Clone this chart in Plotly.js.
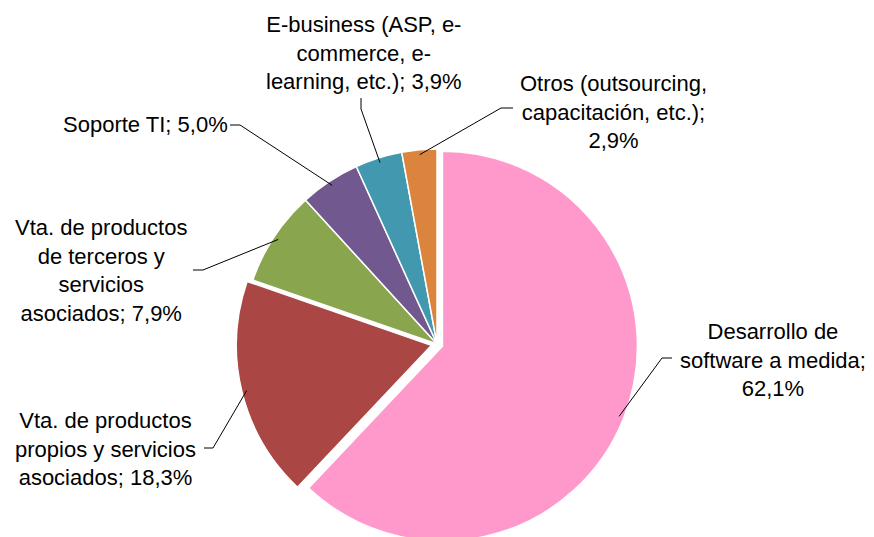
<!DOCTYPE html>
<html>
<head>
<meta charset="utf-8">
<script src="https://cdn.plot.ly/plotly-3.0.1.min.js"></script>
<style>
  html, body { margin: 0; padding: 0; overflow: hidden; background: #fff; }
</style>
</head>
<body>
<div id="chart"></div>
<script>
// data
var labels = ['Desarrollo de software a medida',
              'Vta. de productos propios y servicios asociados',
              'Vta. de productos de terceros y servicios asociados',
              'Soporte TI',
              'E-business (ASP, e-commerce, e-learning, etc.)',
              'Otros (outsourcing, capacitación, etc.)'];
var values = [62.1, 18.3, 7.9, 5.0, 3.9, 2.9];
var labelLines = ['Desarrollo de<br>software a medida;<br>',
                  'Vta. de productos<br>propios y servicios<br>asociados; ',
                  'Vta. de productos<br>de terceros y<br>servicios<br>asociados; ',
                  'Soporte TI; ',
                  'E-business (ASP, e-<br>commerce, e-<br>learning, etc.); ',
                  'Otros (outsourcing,<br>capacitación, etc.);<br>'];
var colors = ['#FF99CC', '#AA4643', '#89A54E', '#71588F', '#4198AF', '#DB843D'];
var pulls = [0.03, 0.03, 0, 0, 0, 0];

// layout (pixels)
var W = 874, H = 560;
var cx = 437, cy = 344, r = 195;
var labelPos = [[773, 360], [105, 449], [101, 270], [145, 125], [364, 53], [613, 112]];
var leaderStart = [[[672, 358], [662, 358]],
                   [[204, 448], [213, 448]],
                   [[193, 270], [203, 270]],
                   [[230, 125], [240, 125]],
                   [[361, 98], [361, 109]],
                   [[513, 108], [501, 108]]];

function fmt(v) {
    return v.toFixed(1).replace('.', ',') + '%';
}
function px(x) { return x / W; }
function py(y) { return 1 - y / H; }

var maxPull = Math.max.apply(null, pulls);
var half = r * (1 + maxPull);

var total = values.reduce(function(a, b) { return a + b; }, 0);
var cum = 0;
var annotations = [];
var shapes = [];
values.forEach(function(v, i) {
    var mid = (cum + v / 2) / total * 2 * Math.PI;
    cum += v;
    var s = Math.sin(mid), c = Math.cos(mid);
    var ox = cx + pulls[i] * r * s, oy = cy - pulls[i] * r * c;
    var ex = ox + 0.975 * r * s, ey = oy - 0.975 * r * c;
    var p = leaderStart[i];
    shapes.push({
        type: 'path', xref: 'paper', yref: 'paper',
        path: 'M' + px(p[0][0]) + ',' + py(p[0][1]) + ' L' + px(p[1][0]) + ',' + py(p[1][1]) +
              ' L' + px(ex) + ',' + py(ey),
        line: {color: '#000000', width: 1}
    });
    annotations.push({
        xref: 'paper', yref: 'paper',
        x: px(labelPos[i][0]), y: py(labelPos[i][1]),
        xanchor: 'center', yanchor: 'middle',
        text: labelLines[i] + fmt(v),
        showarrow: false, align: 'center',
        font: {family: 'Liberation Sans, Arial, sans-serif', size: 22, color: '#000000'}
    });
});

var data = [{
    type: 'pie',
    labels: labels,
    values: values,
    sort: false,
    direction: 'clockwise',
    rotation: 0,
    pull: pulls,
    textinfo: 'none',
    hoverinfo: 'label+percent',
    marker: {colors: colors, line: {color: '#ffffff', width: 1.5}},
    domain: {x: [px(cx - half), px(cx + half)], y: [py(cy + half), py(cy - half)]}
}];

var layout = {
    width: W,
    height: H,
    margin: {l: 0, r: 0, t: 0, b: 0},
    showlegend: false,
    paper_bgcolor: '#ffffff',
    annotations: annotations,
    shapes: shapes
};

Plotly.newPlot('chart', data, layout, {displayModeBar: false, staticPlot: true});
</script>
</body>
</html>
